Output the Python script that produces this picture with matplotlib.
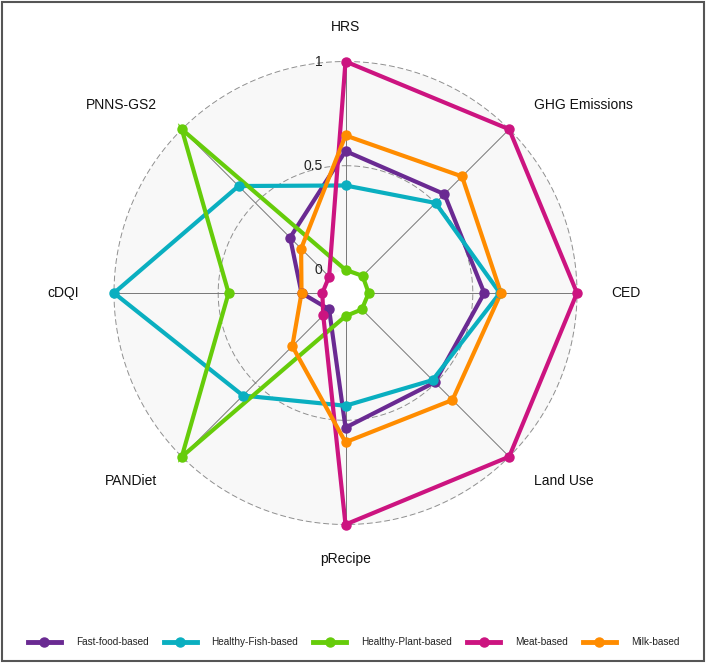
import numpy as np
import matplotlib
matplotlib.use("Agg")
import matplotlib.pyplot as plt
from matplotlib.lines import Line2D
from matplotlib.transforms import ScaledTranslation

plt.rcParams["font.family"] = ["Liberation Sans", "DejaVu Sans"]

# axes in clockwise order starting at the top
AXES = ["HRS", "GHG Emissions", "CED", "Land Use", "pRecipe",
        "PANDiet", "cDQI", "PNNS-GS2"]

GROUPS = ["Fast-food-based", "Healthy-Fish-based", "Healthy-Plant-based",
          "Meat-based", "Milk-based"]

fast_food = [0.57, 0.56, 0.555, 0.495, 0.535, 0.0, 0.10, 0.265]
healthy_fish = [0.405, 0.50, 0.63, 0.48, 0.43, 0.585, 1.0, 0.615]
healthy_plant = [0.0, 0.005, 0.0, 0.0, 0.0, 1.0, 0.45, 1.0]
meat = [1.0, 1.0, 1.0, 1.0, 1.0, 0.04, 0.0, 0.0]
milk = [0.645, 0.68, 0.635, 0.615, 0.605, 0.25, 0.10, 0.19]

SERIES = [fast_food, healthy_fish, healthy_plant, meat, milk]
COLORS = ["#6A2A92", "#0AAFC0", "#66CC0A", "#CC1480", "#FF8C00"]

GRID_LABELS = ["0", "0.5", "1"]
GRID_VALUES = [0.0, 0.5, 1.0]

# ggradar style: centre sits at -1/9 of the range
CENTRE = 1.0 / 9.0
LABEL_OFFSET = 1.15

W, H = 706, 664
DPI = 100
fig = plt.figure(figsize=(W / DPI, H / DPI), dpi=DPI)

cx, cy = 345.5, 293.0        # pixel centre (from top)
R_PX = 231.5                 # pixel radius of value 1
half = 290.0
rmax = half / R_PX * (1 + CENTRE)
ax = fig.add_axes([(cx - half) / W, (H - cy - half) / H, 2 * half / W, 2 * half / H],
                  projection="polar")
ax.set_theta_zero_location("N")
ax.set_theta_direction(-1)
ax.set_ylim(0, rmax)
ax.grid(False)
ax.set_xticks([])
ax.set_yticks([])
ax.spines["polar"].set_visible(False)
ax.patch.set_alpha(0)

n = len(AXES)
angles = np.arange(n) * 2 * np.pi / n
circ = np.linspace(0, 2 * np.pi, 400)

# background band
ax.fill_between(circ, CENTRE, 1 + CENTRE, color="#F8F8F8", lw=0, zorder=0)

# dashed grid circles at mid and max
for v in [0.5, 1.0]:
    ax.plot(circ, np.full_like(circ, v + CENTRE), color="#8f8f8f",
            lw=0.7, ls=(0, (6, 3)), zorder=1)

# axis spokes
for a in angles:
    ax.plot([a, a], [CENTRE, 1 + CENTRE], color="#777777", lw=0.7, zorder=1)

# grid value labels, left of the vertical axis
shift = ScaledTranslation(-23 / DPI, 0, fig.dpi_scale_trans)
for lab, v in zip(GRID_LABELS, GRID_VALUES):
    ax.text(0, v + CENTRE, lab, ha="right", va="center", fontsize=10,
            color="#222222", transform=ax.transData + shift, zorder=2)

# axis labels
for name, a in zip(AXES, angles):
    s = np.sin(a)
    if abs(s) < 1e-6:
        ha = "center"
    elif s > 0:
        ha = "left"
    else:
        ha = "right"
    ax.text(a, LABEL_OFFSET * (1 + CENTRE), name, ha=ha, va="center",
            fontsize=10, color="#111111")

# series paths first, then points (ggradar order)
closed = np.append(angles, angles[0])
for vals, col in zip(SERIES, COLORS):
    r = np.array(vals + vals[:1]) + CENTRE
    ax.plot(closed, r, color=col, lw=3, solid_joinstyle="miter", zorder=3)
for vals, col in zip(SERIES, COLORS):
    r = np.array(vals) + CENTRE
    ax.plot(angles, r, ls="none", marker="o", ms=6.5, color=col, zorder=4)

handles = [Line2D([], [], color=c, lw=3.5, marker="o", ms=6.5) for c in COLORS]
fig.legend(handles, GROUPS, loc="center", bbox_to_anchor=(353.5 / W, (H - 642) / H),
           ncol=5, frameon=False, fontsize=7.2, handlelength=3.3,
           handletextpad=1.5, columnspacing=1.5, labelcolor="#222222")

# figure border
fig.patches.append(plt.Rectangle((1.5 / W, 3 / H), 702.5 / W, 659.5 / H,
                                 transform=fig.transFigure, fill=False,
                                 edgecolor="#555555", lw=1.5))

fig.savefig("out.png", dpi=DPI)
